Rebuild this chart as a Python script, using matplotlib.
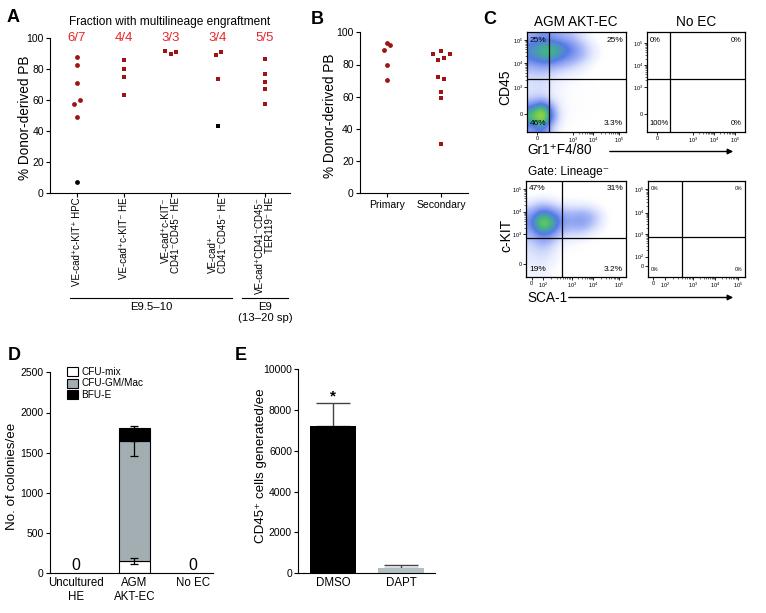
import matplotlib
matplotlib.use('Agg')
import matplotlib.pyplot as plt
import numpy as np
from matplotlib.colors import LinearSegmentedColormap
from matplotlib.patches import Patch, FancyArrowPatch
from matplotlib.transforms import blended_transform_factory

plt.rcParams['font.family'] = ['Liberation Sans', 'DejaVu Sans']
plt.rcParams['axes.linewidth'] = 0.8
plt.rcParams['mathtext.fontset'] = 'custom'
plt.rcParams['mathtext.rm'] = 'Liberation Sans'

# ---------------- Panel A data ----------------
a_categories = ["VE-cad⁺c-KIT⁺ HPC", "VE-cad⁺c-KIT⁻ HE", "VE-cad⁺c-KIT⁻\nCD41⁻CD45⁻ HE",
                "VE-cad⁺\nCD41⁻CD45⁻ HE", "VE-cad⁺CD41⁻CD45⁻\nTER119⁻ HE"]
a_label_align = ['left', 'left', 'right', 'left', 'right']
a_fractions = ["6/7", "4/4", "3/3", "3/4", "5/5"]
a_engrafted = [[87.8, 82.4, 71.1, 60.0, 57.2, 49.3],
               [85.4, 79.7, 74.9, 63.0],
               [91.4, 89.3, 90.6],
               [88.9, 90.6, 73.7],
               [86.3, 76.9, 71.3, 67.2, 57.2]]
a_engrafted_jitter = [[0, 0, 0, 0.06, -0.06, 0],
                      [0, 0, 0, 0],
                      [-0.12, 0, 0.11],
                      [-0.05, 0.06, 0],
                      [0, 0, 0, 0, 0]]
a_not_engrafted = [[7.3], [], [], [43.3], []]
a_markers = ['o', 's', 's', 's', 's']
a_groups = ["E9.5–10", "E9\n(13–20 sp)"]
a_group_spans = [(-0.14, 3.3), (3.51, 4.49)]

# ---------------- Panel B data ----------------
b_categories = ["Primary", "Secondary"]
b_values = [[93.5, 91.9, 89.0, 79.7, 70.4],
            [86.8, 88.4, 86.8, 83.0, 84.3, 72.2, 71.0, 62.9, 59.2, 30.9]]
b_jitter = [[0, 0.063, -0.055, 0, 0],
            [-0.154, 0, 0.167, -0.05, 0.056, -0.05, 0.056, 0, 0, 0]]
b_markers = ['o', 's']

# ---------------- Panel C data ----------------
c_top_titles = ["AGM AKT-EC", "No EC"]
c_top_pcts = [["25%", "25%", "46%", "3.3%"], ["0%", "0%", "100%", "0%"]]
c_bottom_pcts = [["47%", "31%", "19%", "3.2%"], ["0%", "0%", "0%", "0%"]]
c_top_xticklabels = ["0", "$10^3$", "$10^4$", "$10^5$"]
c_top_yticklabels = ["0", "$10^3$", "$10^4$", "$10^5$"]
c_bot_left_xticklabels = ["0", "$10^2$", "$10^3$", "$10^4$", "$10^5$"]
c_bot_left_yticklabels = ["0", "$10^3$", "$10^4$", "$10^5$"]
c_bot_right_yticklabels = ["0", "$10^2$", "$10^3$", "$10^4$", "$10^5$"]
# event density (rows top->bottom, cols left->right)
c_top_density = [
    [0.30, 0.40, 0.35, 0.30, 0.25, 0.15, 0.05, 0.00, 0.00, 0.00],
    [0.52, 0.64, 0.64, 0.56, 0.45, 0.30, 0.15, 0.05, 0.00, 0.00],
    [0.50, 0.60, 0.62, 0.50, 0.40, 0.30, 0.15, 0.05, 0.00, 0.00],
    [0.30, 0.35, 0.30, 0.25, 0.20, 0.12, 0.05, 0.00, 0.00, 0.00],
    [0.18, 0.20, 0.15, 0.10, 0.07, 0.05, 0.03, 0.00, 0.00, 0.00],
    [0.15, 0.18, 0.12, 0.07, 0.05, 0.04, 0.03, 0.02, 0.00, 0.00],
    [0.18, 0.20, 0.12, 0.06, 0.05, 0.04, 0.03, 0.02, 0.00, 0.00],
    [0.45, 0.70, 0.35, 0.08, 0.05, 0.04, 0.03, 0.02, 0.00, 0.00],
    [0.70, 1.00, 0.50, 0.08, 0.05, 0.04, 0.03, 0.02, 0.00, 0.00],
    [0.35, 0.50, 0.22, 0.05, 0.03, 0.02, 0.01, 0.00, 0.00, 0.00]]
c_bottom_density = [
    [0.00, 0.00, 0.00, 0.00, 0.00, 0.00, 0.00, 0.00, 0.00, 0.00],
    [0.03, 0.05, 0.04, 0.02, 0.02, 0.02, 0.01, 0.00, 0.00, 0.00],
    [0.15, 0.25, 0.20, 0.12, 0.10, 0.10, 0.08, 0.04, 0.00, 0.00],
    [0.35, 0.58, 0.52, 0.35, 0.30, 0.35, 0.30, 0.15, 0.02, 0.00],
    [0.40, 0.82, 0.72, 0.40, 0.35, 0.40, 0.30, 0.15, 0.02, 0.00],
    [0.30, 0.50, 0.45, 0.25, 0.20, 0.20, 0.12, 0.05, 0.00, 0.00],
    [0.20, 0.30, 0.25, 0.10, 0.06, 0.05, 0.03, 0.01, 0.00, 0.00],
    [0.15, 0.20, 0.15, 0.06, 0.03, 0.02, 0.01, 0.00, 0.00, 0.00],
    [0.12, 0.15, 0.10, 0.04, 0.02, 0.01, 0.00, 0.00, 0.00, 0.00],
    [0.08, 0.10, 0.06, 0.02, 0.01, 0.00, 0.00, 0.00, 0.00, 0.00]]

# ---------------- Panel D data ----------------
d_categories = ["Uncultured\nHE", "AGM\nAKT-EC", "No EC"]
d_series = ["CFU-mix", "CFU-GM/Mac", "BFU-E"]
d_cfu_mix = [0, 153, 0]
d_cfu_gm = [0, 1493, 0]
d_bfu_e = [0, 157, 0]
d_cfu_mix_err = [0, 33, 0]
d_cfu_gm_err_low = [0, 187, 0]
d_bfu_e_err_up = [0, 34, 0]
d_zero_labels = ["0", "", "0"]

# ---------------- Panel E data ----------------
e_categories = ["DMSO", "DAPT"]
e_values = [7210, 277]
e_errors = [1110, 113]

# ---------------- figure ----------------
W, H = 766, 613
fig = plt.figure(figsize=(W / 100, H / 100), dpi=100)
DARKRED = '#9e1414'
RED = '#e8262a'
GRAY = '#a3aeb2'
LIGHTGRAY = '#b3bec3'


def px_axes(l, t, r, b):
    return fig.add_axes([l / W, 1 - b / H, (r - l) / W, (b - t) / H])


def ftext(x, y, s, **kw):
    return fig.text(x / W, 1 - y / H, s, **kw)


def farrow(x1, y1, x2, y2):
    fig.add_artist(FancyArrowPatch((x1 / W, 1 - y1 / H), (x2 / W, 1 - y2 / H),
                                   transform=fig.transFigure, arrowstyle='-|>',
                                   mutation_scale=8, lw=1.0, color='black'))


def style_axes(ax):
    ax.spines['top'].set_visible(False)
    ax.spines['right'].set_visible(False)
    ax.tick_params(direction='out', length=3, width=0.8, labelsize=7.5, pad=1.5)


# ---------------- Panel A ----------------
axA = px_axes(50, 37.7, 290, 193.3)
style_axes(axA)
axA.set_xlim(-0.57, 4.53)
axA.set_ylim(0, 100)
axA.set_yticks([0, 20, 40, 60, 80, 100])
axA.set_xticks(range(len(a_categories)))
axA.set_xticklabels([])
for i, (vals, jit) in enumerate(zip(a_engrafted, a_engrafted_jitter)):
    axA.scatter(np.array(jit) + i, vals, marker=a_markers[i], s=12, color=DARKRED,
                linewidths=0, clip_on=False, zorder=3)
    if a_not_engrafted[i]:
        axA.scatter([i] * len(a_not_engrafted[i]), a_not_engrafted[i], marker=a_markers[i],
                    s=12, color='black', linewidths=0, clip_on=False, zorder=3)
    axA.text(i, 100, a_fractions[i], color=RED, ha='center', va='center', fontsize=9.5)
transA = blended_transform_factory(axA.transData, axA.transAxes)
for i, lab in enumerate(a_categories):
    axA.text(i, -0.025, lab, transform=transA, rotation=90, ha='center', va='top',
             multialignment=a_label_align[i], fontsize=7.0, linespacing=1.05)
for (x0, x1), g in zip(a_group_spans, a_groups):
    axA.plot([x0, x1], [-0.673, -0.673], transform=transA, color='black', lw=0.8, clip_on=False)
    axA.text((x0 + x1) / 2, -0.70, g, transform=transA, ha='center', va='top', fontsize=8.2,
             linespacing=1.1)
ftext(170, 22, "Fraction with multilineage engraftment", ha='center', va='center', fontsize=8.6)
ftext(25, 118, "% Donor-derived PB", rotation=90, ha='center', va='center', fontsize=9.8)
ftext(13, 17, "A", fontsize=13, fontweight='heavy', ha='center', va='center')

# ---------------- Panel B ----------------
axB = px_axes(360, 32.3, 468, 193.3)
style_axes(axB)
axB.set_xlim(-0.5, 1.5)
axB.set_ylim(0, 100)
axB.set_yticks([0, 20, 40, 60, 80, 100])
axB.set_xticks(range(len(b_categories)))
axB.set_xticklabels(b_categories, fontsize=7.5)
for i, (vals, jit) in enumerate(zip(b_values, b_jitter)):
    axB.scatter(np.array(jit) + i, vals, marker=b_markers[i], s=12, color=DARKRED,
                linewidths=0, clip_on=False, zorder=3)
ftext(330, 116, "% Donor-derived PB", rotation=90, ha='center', va='center', fontsize=9.8)
ftext(317, 20, "B", fontsize=13, fontweight='heavy', ha='center', va='center')

# ---------------- Panel C ----------------
cmap = LinearSegmentedColormap.from_list('flow', [
    (0.00, (1, 1, 1, 0)),
    (0.06, (0.86, 0.89, 1.0, 0.35)),
    (0.25, (0.55, 0.63, 0.96, 0.7)),
    (0.45, (0.30, 0.45, 0.90, 0.95)),
    (0.60, (0.25, 0.70, 0.55, 1.0)),
    (0.75, (0.55, 0.82, 0.25, 1.0)),
    (0.88, (0.98, 0.80, 0.10, 1.0)),
    (1.00, (0.90, 0.25, 0.10, 1.0))])
cmap.set_under((1, 1, 1, 0))
cmap.set_over((0.9, 0.25, 0.1, 1))


def minor_positions(major_pos):
    out = []
    for p0, p1 in zip(major_pos[1:-1], major_pos[2:]):
        for m in range(2, 10):
            out.append(p0 + (p1 - p0) * np.log10(m))
    return out


def flow_axes(l, t, r, b, vgate, hgate, xt, xl, yt, yl, density, pcts, pct_size):
    ax = px_axes(l, t, r, b)
    ax.set_xlim(0, 100)
    ax.set_ylim(0, 100)
    if density is not None:
        ax.imshow(np.array(density), extent=(0, 100, 0, 100), origin='upper', cmap=cmap,
                  vmin=0.02, vmax=1, interpolation='bicubic', aspect='auto', zorder=0)
    ax.axvline(vgate, color='black', lw=0.9)
    ax.axhline(hgate, color='black', lw=0.9)
    ax.set_xticks(xt)
    ax.set_xticklabels(xl, fontsize=4.0)
    ax.set_yticks(yt)
    ax.set_yticklabels(yl, fontsize=4.0)
    ax.set_xticks(minor_positions(xt), minor=True)
    ax.set_yticks(minor_positions(yt), minor=True)
    ax.tick_params(direction='out', length=2, width=0.6, pad=0.8)
    ax.tick_params(which='minor', direction='out', length=1.2, width=0.4)
    for s in ax.spines.values():
        s.set_linewidth(0.9)
    corners = [(0.03, 0.92, 'left'), (0.97, 0.92, 'right'), (0.03, 0.08, 'left'), (0.97, 0.08, 'right')]
    for s, (x, y, ha) in zip(pcts, corners):
        ax.text(x, y, s, transform=ax.transAxes, ha=ha, va='center', fontsize=pct_size)
    return ax


flow_axes(526.7, 32.3, 626, 131.7, 22.8, 52.7, [10.4, 46.3, 66.8, 93.0], c_top_xticklabels,
          [17.8, 45.0, 69.1, 92.2], c_top_yticklabels, c_top_density, c_top_pcts[0], 6)
flow_axes(646.7, 32.3, 745, 131.7, 23.7, 52.7, [10.8, 46.8, 68.5, 89.8], c_top_xticklabels,
          [17.8, 45.0, 67.0, 89.0], c_top_yticklabels, None, c_top_pcts[1], 5.5)
flow_axes(526, 180.7, 626, 277.3, 35.7, 40.4, [5.7, 16.7, 45.7, 67.3, 93.3], c_bot_left_xticklabels,
          [13.5, 44.5, 67.9, 91.1], c_bot_left_yticklabels, c_bottom_density, c_bottom_pcts[0], 6)
flow_axes(647.7, 180.7, 745, 277.3, 35.6, 42.0, [5.4, 17.8, 46.6, 69.2, 92.8], c_bot_left_xticklabels,
          [11.7, 21.3, 44.5, 66.9, 91.1], c_bot_right_yticklabels, None, c_bottom_pcts[1], 3.8)

ftext(490, 20, "C", fontsize=13, fontweight='heavy', ha='center', va='center')
ftext(576, 22, c_top_titles[0], ha='center', va='center', fontsize=9.8)
ftext(696, 22, c_top_titles[1], ha='center', va='center', fontsize=9.8)
ftext(505, 87, "CD45", rotation=90, ha='center', va='center', fontsize=10)
ftext(527, 150.5, "Gr1⁺F4/80", ha='left', va='center', fontsize=9.8)
farrow(607, 151.5, 736, 151.5)
ftext(528, 172, "Gate: Lineage⁻", ha='left', va='center', fontsize=8.6)
ftext(506, 235, "c-KIT", rotation=90, ha='center', va='center', fontsize=10)
ftext(527, 298, "SCA-1", ha='left', va='center', fontsize=9.8)
farrow(566, 297.5, 736, 297.5)

# ---------------- Panel D ----------------
axD = px_axes(50, 372.3, 213, 573.3)
style_axes(axD)
axD.set_xlim(-0.45, 2.35)
axD.set_ylim(0, 2500)
axD.set_yticks([0, 500, 1000, 1500, 2000, 2500])
axD.set_xticks(range(len(d_categories)))
axD.set_xticklabels(d_categories, fontsize=8.3, linespacing=1.15)
axD.tick_params(axis='x', length=0, pad=3)
xD = np.arange(len(d_categories))
bw = 0.54
mix = np.array(d_cfu_mix)
gm = np.array(d_cfu_gm)
bfu = np.array(d_bfu_e)
has = mix + gm + bfu > 0
axD.bar(xD[has], mix[has], bw, color='white', edgecolor='black', lw=0.8, zorder=2)
axD.bar(xD[has], gm[has], bw, bottom=mix[has], color=GRAY, edgecolor='black', lw=0.8, zorder=2)
axD.bar(xD[has], bfu[has], bw, bottom=(mix + gm)[has], color='black', edgecolor='black', lw=0.8, zorder=2)
axD.errorbar(xD[has], mix[has], yerr=np.array(d_cfu_mix_err)[has], fmt='none', ecolor='black',
             elinewidth=0.9, capsize=3.2, capthick=0.9, zorder=3)
axD.errorbar(xD[has], (mix + gm)[has], yerr=[np.array(d_cfu_gm_err_low)[has], np.zeros(has.sum())],
             fmt='none', ecolor='black', elinewidth=0.9, capsize=3.2, capthick=0.9, zorder=3)
axD.errorbar(xD[has], (mix + gm + bfu)[has], yerr=[np.zeros(has.sum()), np.array(d_bfu_e_err_up)[has]],
             fmt='none', ecolor='black', elinewidth=0.9, capsize=3.2, capthick=0.9, zorder=3)
for i, z in enumerate(d_zero_labels):
    if z:
        axD.annotate(z, (i, 0), xytext=(0, 0.5), textcoords='offset points', ha='center',
                     va='bottom', fontsize=11.5)
handles = [Patch(facecolor='white', edgecolor='black', lw=0.8),
           Patch(facecolor=GRAY, edgecolor='black', lw=0.8),
           Patch(facecolor='black', edgecolor='black', lw=0.8)]
axD.legend(handles, d_series, loc='upper left', bbox_to_anchor=(0.105, 1.025), frameon=False,
           fontsize=7.2, handlelength=1.1, handleheight=1.0, handletextpad=0.35,
           labelspacing=0.12, borderpad=0, borderaxespad=0)
ftext(12.5, 476, "No. of colonies/ee", rotation=90, ha='center', va='center', fontsize=9.6)
ftext(14, 356, "D", fontsize=13, fontweight='heavy', ha='center', va='center')

# ---------------- Panel E ----------------
axE = px_axes(298.3, 369, 435, 573.3)
style_axes(axE)
axE.set_xlim(-0.51, 1.5)
axE.set_ylim(0, 10000)
axE.set_yticks([0, 2000, 4000, 6000, 8000, 10000])
axE.set_xticks(range(len(e_categories)))
axE.set_xticklabels(e_categories, fontsize=8.3)
axE.tick_params(axis='x', length=0, pad=3)
axE.bar([0, 1], e_values, 0.68, color=['black', LIGHTGRAY], zorder=2)
axE.errorbar([0, 1], e_values, yerr=[[0, 0], e_errors], fmt='none', ecolor='#444444',
             elinewidth=1.0, capsize=12, capthick=1.0, zorder=1)
axE.annotate("*", (0, e_values[0] + e_errors[0]), xytext=(0, 0), textcoords='offset points',
             ha='center', va='bottom', fontsize=11, fontweight='bold')
ftext(261, 466, "CD45⁺ cells generated/ee", rotation=90, ha='center', va='center', fontsize=9.6)
ftext(241, 356, "E", fontsize=13, fontweight='heavy', ha='center', va='center')

fig.savefig('out.png', dpi=100)
